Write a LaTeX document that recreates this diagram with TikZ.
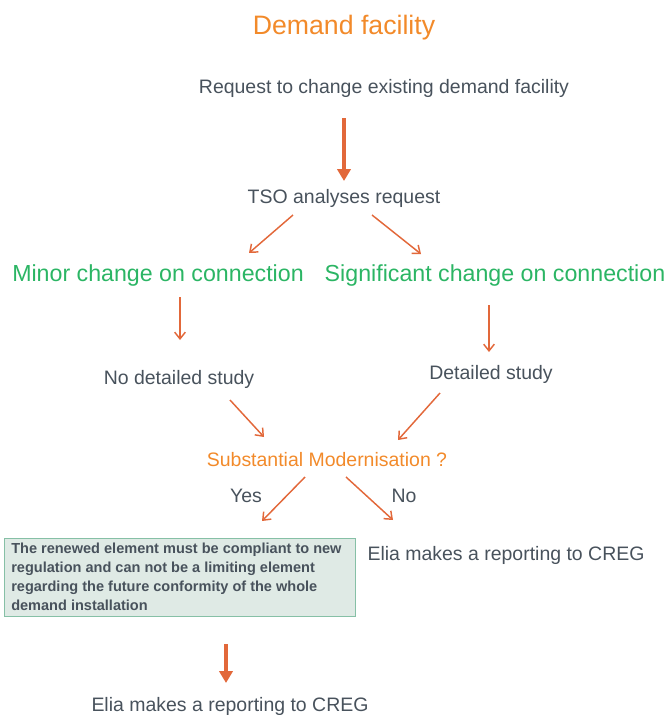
\documentclass[tikz,border=0pt]{standalone}
\usepackage{fontspec}
\setmainfont{Liberation Sans}
\usetikzlibrary{arrows.meta}
\definecolor{ttl}{HTML}{F28A2A}
\definecolor{grn}{HTML}{2BB564}
\definecolor{arr}{HTML}{E2683A}
\definecolor{txt}{HTML}{48525C}
\definecolor{boxfill}{HTML}{DFEAE5}
\definecolor{boxline}{HTML}{86C0A6}
\tikzset{
  lbl/.style={inner sep=0pt, text=txt, font=\fontsize{14.6}{17}\selectfont},
  grnlbl/.style={inner sep=0pt, text=grn, font=\fontsize{17.4}{20}\selectfont},
  thin/.style={draw=arr, line width=1.1pt, -{Straight Barb[length=5pt,width=8pt]}},
  thick/.style={draw=arr, line width=3pt, -{Triangle[length=9pt,width=10pt]}},
}
\begin{document}
\begin{tikzpicture}[x=0.75pt,y=-0.75pt]
\useasboundingbox (0,0) rectangle (668,715);
\node[inner sep=0pt, text=ttl, font=\fontsize{20}{24}\selectfont] (title) at (344,28) {Demand facility};
\node[lbl] (req) at (384,88) {Request to change existing demand facility};
\coordinate (a1s) at (344,118);
\coordinate (a1e) at (344,181);
\draw[thick] (a1s) -- (a1e);
\node[lbl] (tso) at (344,198) {TSO analyses request};
\node[grnlbl] (minor) at (158,275) {Minor change on connection};
\node[grnlbl] (sig) at (495,275) {Significant change on connection};
\coordinate (t1) at (293,215); \coordinate (t2) at (249,253);
\coordinate (t3) at (372,215); \coordinate (t4) at (421,254);
\draw[thin] (t1) -- (t2);
\draw[thin] (t3) -- (t4);
\node[lbl] (nods) at (179,379) {No detailed study};
\node[lbl] (ds) at (491,374) {Detailed study};
\coordinate (m1) at (180,297); \coordinate (m2) at (180,340);
\coordinate (s1) at (489,305); \coordinate (s2) at (489,352);
\draw[thin] (m1) -- (m2);
\draw[thin] (s1) -- (s2);
\node[inner sep=0pt, text=ttl, font=\fontsize{14.6}{17}\selectfont] (sub) at (327,460) {Substantial Modernisation ?};
\coordinate (n1) at (230,400); \coordinate (n2) at (264,437);
\coordinate (d1) at (440,393); \coordinate (d2) at (398,440);
\draw[thin] (n1) -- (n2);
\draw[thin] (d1) -- (d2);
\node[lbl] (yes) at (246,496) {Yes};
\node[lbl] (no) at (404,496) {No};
\coordinate (y1) at (305,477); \coordinate (y2) at (262,521);
\coordinate (o1) at (346,477); \coordinate (o2) at (393,520);
\draw[thin] (y1) -- (y2);
\draw[thin] (o1) -- (o2);
\node[draw=boxline, fill=boxfill, line width=1pt, minimum width=263.25pt, minimum height=58.5pt, anchor=north west, inner sep=0pt] (box) at (4,538) {};
\node[anchor=north west, inner sep=0pt, text=txt, align=left, font=\bfseries\fontsize{10.9}{14.2}\selectfont] (boxtxt) at (11,543) {The renewed element must be compliant to new\\regulation and can not be a limiting element\\regarding the future conformity of the whole\\demand installation};
\node[lbl] (elia1) at (506,555) {Elia makes a reporting to CREG};
\coordinate (b1) at (226,644); \coordinate (b2) at (226,683);
\draw[thick] (b1) -- (b2);
\node[lbl] (elia2) at (230,706) {Elia makes a reporting to CREG};
\end{tikzpicture}
\end{document}
